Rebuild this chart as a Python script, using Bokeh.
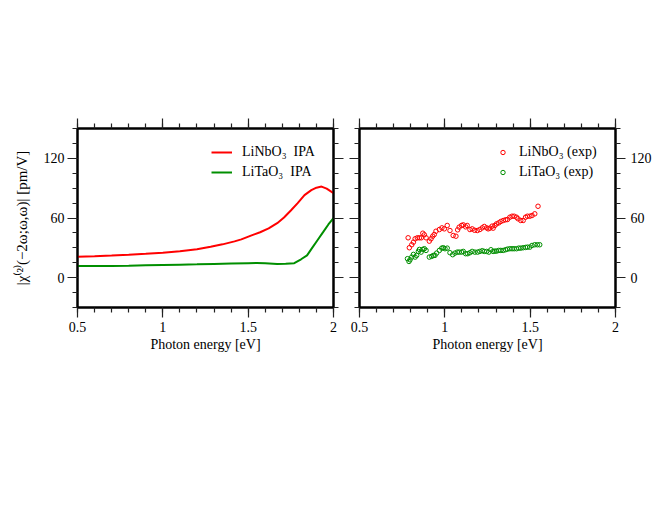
from bokeh.plotting import figure
from bokeh.layouts import row
from bokeh.models import (Range1d, LinearAxis, SingleIntervalTicker, Legend, LegendItem)
from bokeh.embed import file_html
from bokeh.resources import INLINE

# ---- data ----
ipa_nb_x = [0.5, 0.6, 0.7, 0.8, 0.9, 1.0, 1.1, 1.2, 1.28, 1.35, 1.42, 1.46, 1.52, 1.57, 1.62,
            1.67, 1.71, 1.75, 1.79, 1.83, 1.87, 1.9, 1.93, 1.96, 2.0]
ipa_nb_y = [21, 21.6, 22.3, 23.1, 24, 25, 26.5, 28.5, 31, 33.5, 36.5, 38.5, 42.5, 45.7, 49.5,
            54.8, 60.5, 67.5, 75, 83, 88, 90.5, 91.6, 89.5, 85]
ipa_ta_x = [0.5, 0.6, 0.7, 0.8, 0.9, 1.0, 1.1, 1.2, 1.3, 1.4, 1.5, 1.55, 1.6, 1.67, 1.72, 1.77,
            1.81, 1.845, 1.875, 1.905, 1.94, 1.97, 2.0]
ipa_ta_y = [11.8, 11.8, 11.7, 12.0, 12.4, 12.8, 13.1, 13.4, 13.8, 14.2, 14.6, 14.8, 14.4, 13.8,
            14.0, 14.6, 18.5, 22.4, 30, 37.4, 46, 53.5, 60]

exp_nb_x = [0.785, 0.792, 0.806, 0.816, 0.826, 0.839, 0.851, 0.862, 0.871, 0.880, 0.890,
            0.909, 0.919, 0.929, 0.938, 0.948, 0.968, 0.983, 0.997, 1.014,
            1.030, 1.049, 1.065, 1.075, 1.084, 1.098, 1.108, 1.122, 1.131, 1.147, 1.160, 1.174, 1.190,
            1.205, 1.219, 1.231, 1.245, 1.254, 1.264, 1.277, 1.283, 1.293, 1.303, 1.316, 1.328,
            1.342, 1.356, 1.367, 1.381, 1.394, 1.406, 1.420, 1.429, 1.445, 1.459, 1.473, 1.484,
            1.498, 1.511, 1.527, 1.546]
exp_nb_y = [40.1, 30.1, 33.1, 35.7, 39.1, 40.1, 40.1, 40.1, 44.7, 43.1, 40.1,
            36.7, 39.1, 41.7, 43.4, 46.7, 48.4, 50.1, 49.1, 52.5,
            47.4, 42.4, 41.7, 48.1, 50.8, 52.5, 53.1, 51.1, 52.5, 48.4, 49.1, 47.7, 47.4,
            48.4, 50.1, 51.5, 50.1, 49.1, 49.8, 51.8, 49.8, 52.5, 54.1, 55.1, 56.5,
            57.5, 58.2, 58.5, 60.8, 61.8, 61.8, 60.8, 59.2, 57.5, 57.5, 60.8, 61.8,
            61.8, 62.5, 64.2, 71.8]
exp_ta_x = [0.781, 0.790, 0.796, 0.806, 0.816, 0.826, 0.835, 0.845, 0.851, 0.861, 0.871, 0.880, 0.890,
            0.909, 0.923, 0.933, 0.942, 0.952, 0.968, 0.982, 0.991, 1.001, 1.014,
            1.030, 1.046, 1.059, 1.073, 1.084, 1.098, 1.108, 1.122, 1.134, 1.147, 1.160, 1.176,
            1.192, 1.205, 1.219, 1.231, 1.245, 1.258, 1.270, 1.283, 1.293, 1.303, 1.316, 1.328,
            1.342, 1.356, 1.367, 1.381, 1.394, 1.406, 1.420, 1.433, 1.445, 1.459, 1.473, 1.484,
            1.498, 1.511, 1.527, 1.542, 1.556]
exp_ta_y = [19.1, 16.3, 18, 20.7, 23.4, 20.7, 22.4, 26.4, 28.4, 25.7, 28.4, 29.1, 27.4,
            20.7, 21.4, 22.4, 22.4, 24.7, 27.4, 29.7, 30.1, 29.1, 29.7,
            25.1, 23.1, 24.7, 25.7, 25.7, 25.7, 26.4, 24.1, 24.1, 25.1, 26.4, 25.7,
            25.7, 26.4, 27.1, 26.4, 26.4, 25.7, 28.1, 26.4, 26.7, 26.7, 27.4, 27.4,
            27.4, 28.1, 28.7, 29.1, 29.1, 29.1, 29.1, 29.7, 29.7, 30.1, 30.4, 30.7,
            30.7, 32.4, 33.1, 33.1, 33.1]

x_tick_labels = {0.5: "0.5", 1: "1", 1.5: "1.5", 2: "2"}
y_tick_labels = {0: "0", 60: "60", 120: "120"}
labels_ipa = ["LiNbO\u2083  IPA", "LiTaO\u2083  IPA"]
labels_exp = ["LiNbO\u2083 (exp)", "LiTaO\u2083 (exp)"]
x_label = "Photon energy [eV]"
y_label = "|\u03c7\u207d\u00b2\u207e(\u22122\u03c9;\u03c9,\u03c9)| [pm/V]"

RED = "#ff0000"
GREEN = "#008f00"
FONT = "Liberation Serif"
FS = "14px"


def style_axis(ax, dim, show_labels, standoff=3):
    ax.ticker = SingleIntervalTicker(interval=0.5, num_minor_ticks=5) if dim == "x" \
        else SingleIntervalTicker(interval=60, num_minor_ticks=4)
    ax.axis_line_color = "black"
    ax.axis_line_width = 2
    ax.major_tick_out = 10
    ax.major_tick_in = 0
    ax.minor_tick_out = 5
    ax.minor_tick_in = 0
    ax.major_tick_line_color = "#222222"
    ax.minor_tick_line_color = "#222222"
    ax.major_tick_line_width = 1.2
    ax.minor_tick_line_width = 1.2
    ax.axis_label_text_color = "black"
    ax.axis_label_text_font = FONT
    ax.axis_label_text_font_size = FS
    ax.axis_label_text_font_style = "normal"
    if show_labels:
        ax.major_label_text_font = FONT
        ax.major_label_text_font_size = FS
        ax.major_label_text_color = "black"
        ax.major_label_standoff = standoff
        ax.major_label_overrides = x_tick_labels if dim == "x" else y_tick_labels
    else:
        ax.major_label_text_font_size = "0px"
        ax.major_label_text_color = None
        ax.major_label_standoff = 0


def make_fig(width, bl, br):
    p = figure(width=width, height=359, output_backend="svg", toolbar_location=None,
               x_range=Range1d(0.5, 2.0), y_range=Range1d(-30, 150),
               x_axis_location=None, y_axis_location=None,
               min_border_left=bl, min_border_right=br, min_border_top=128, min_border_bottom=52)
    p.xgrid.visible = False
    p.ygrid.visible = False
    p.outline_line_color = "black"
    p.outline_line_width = 2
    p.background_fill_color = "white"
    p.border_fill_color = "white"
    return p


# ---- left panel ----
p1 = make_fig(346, 77, 13)
xb = LinearAxis(axis_label=x_label)
style_axis(xb, "x", True, standoff=4)
xb.axis_label_standoff = 2
p1.add_layout(xb, "below")
xt = LinearAxis()
style_axis(xt, "x", False)
p1.add_layout(xt, "above")
yl = LinearAxis(axis_label=y_label)
style_axis(yl, "y", True, standoff=3)
yl.axis_label_text_font_size = "15px"
yl.axis_label_standoff = 11
p1.add_layout(yl, "left")
yr = LinearAxis()
style_axis(yr, "y", False)
p1.add_layout(yr, "right")

r1 = p1.line(ipa_nb_x, ipa_nb_y, line_color=RED, line_width=2)
r2 = p1.line(ipa_ta_x, ipa_ta_y, line_color=GREEN, line_width=2)
leg1 = Legend(items=[LegendItem(label=labels_ipa[0], renderers=[r1]),
                     LegendItem(label=labels_ipa[1], renderers=[r2])],
              location=(134, 125), border_line_color=None, background_fill_alpha=0,
              padding=0, spacing=0, glyph_width=21, glyph_height=20, label_height=20,
              label_standoff=10, label_text_font=FONT, label_text_font_size=FS,
              label_text_color="black", margin=0)
p1.add_layout(leg1, "center")

# ---- right panel ----
p2 = make_fig(310, 13, 41)
xb2 = LinearAxis(axis_label=x_label)
style_axis(xb2, "x", True, standoff=4)
xb2.axis_label_standoff = 2
p2.add_layout(xb2, "below")
xt2 = LinearAxis()
style_axis(xt2, "x", False)
p2.add_layout(xt2, "above")
yl2 = LinearAxis()
style_axis(yl2, "y", False)
p2.add_layout(yl2, "left")
yr2 = LinearAxis()
style_axis(yr2, "y", True, standoff=5)
p2.add_layout(yr2, "right")

s1 = p2.scatter(exp_nb_x, exp_nb_y, marker="circle", size=4.5, fill_color=None,
                line_color=RED, line_width=1)
s2 = p2.scatter(exp_ta_x, exp_ta_y, marker="circle", size=4.5, fill_color=None,
                line_color=GREEN, line_width=1)
leg2 = Legend(items=[LegendItem(label=labels_exp[0], renderers=[s1]),
                     LegendItem(label=labels_exp[1], renderers=[s2])],
              location=(138, 125), border_line_color=None, background_fill_alpha=0,
              padding=0, spacing=0, glyph_width=11, glyph_height=20, label_height=20,
              label_standoff=11, label_text_font=FONT, label_text_font_size=FS,
              label_text_color="black", margin=0)
p2.add_layout(leg2, "center")

layout = row(p1, p2, spacing=0)
open("out.html", "w").write(file_html(layout, INLINE))
